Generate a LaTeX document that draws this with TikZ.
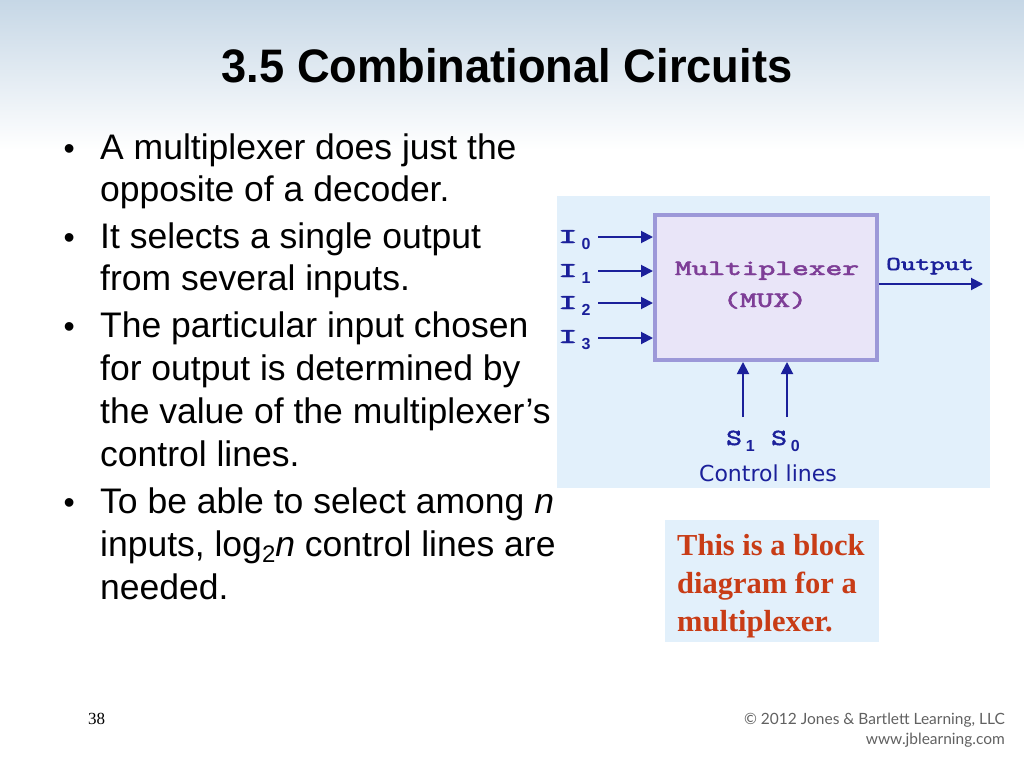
\documentclass[tikz,border=0pt]{standalone}
\usepackage{fontspec}
\usepackage{graphicx}
\setmainfont{Liberation Sans}
\newfontfamily\seriffont{Liberation Serif}
\newfontfamily\verdfont{DejaVu Sans}
\newfontfamily\footfont{Lato}
\newfontfamily\courfont[FakeBold=2.2]{lmmono10-regular.otf}
\usetikzlibrary{arrows.meta}
\definecolor{navyblue}{HTML}{1B209A}
\definecolor{muxfill}{HTML}{E9E5F8}
\definecolor{muxdraw}{HTML}{9C98D8}
\definecolor{muxtext}{HTML}{7E3E97}
\definecolor{panelbg}{HTML}{E2F0FB}
\definecolor{notered}{HTML}{C83C16}
\definecolor{topbg}{HTML}{C6D7E6}
\newcommand{\widetxt}[2]{\scalebox{#1}[1]{#2}}
\newcommand{\sublbl}[3]{\widetxt{#1}{#2}\hspace{4pt}\raisebox{-6.5pt}{\normalfont\bfseries\fontsize{16}{16}\selectfont #3}}
\tikzset{
  bodyline/.style={anchor=base west, inner sep=0pt, font=\fontsize{35.5}{40}\selectfont},
  bulletdot/.style={anchor=base west, inner sep=0pt, font=\fontsize{32}{36}\selectfont},
  arr/.style={navyblue, line width=1.9pt, -{Triangle[length=12pt,width=12pt]}},
  monolbl/.style={inner sep=0pt, anchor=base west, text=navyblue, font=\courfont\fontsize{21}{21}\selectfont},
  muxlbl/.style={anchor=base, inner sep=0pt, text=muxtext, font=\courfont\fontsize{22}{22}\selectfont},
  notetext/.style={anchor=base west, inner sep=0pt, text=notered, font=\seriffont\bfseries\fontsize{30.5}{34}\selectfont},
  foot/.style={anchor=base east, inner sep=0pt, text=black!62, font=\footfont\fontsize{15.5}{18}\selectfont}
}
\begin{document}
\begin{tikzpicture}[x=1pt,y=-1pt]
\useasboundingbox (0,0) rectangle (1024,768);
\fill[white] (0,0) rectangle (1024,768);
\shade[top color=topbg, bottom color=white] (0,0) rectangle (1024,150);

% title
\node[anchor=base, inner sep=0pt, font=\bfseries\fontsize{47}{50}\selectfont] (title) at (507,82) {\scalebox{0.963}[1]{3.5 Combinational Circuits}};

% bullets
\node[bulletdot] (b1) at (63.5,159) {•};
\node[bodyline] (l1) at (100,159) {A multiplexer does just the};
\node[bodyline] (l2) at (100,201) {opposite of a decoder.};
\node[bulletdot] (b2) at (63.5,248) {•};
\node[bodyline] (l3) at (100,248) {It selects a single output};
\node[bodyline] (l4) at (100,290) {from several inputs.};
\node[bulletdot] (b3) at (63.5,337) {•};
\node[bodyline] (l5) at (100,337) {The particular input chosen};
\node[bodyline] (l6) at (100,380) {for output is determined by};
\node[bodyline] (l7) at (100,423) {the value of the multiplexer’s};
\node[bodyline] (l8) at (100,466) {control lines.};
\node[bulletdot] (b4) at (63.5,513) {•};
\node[bodyline] (l9) at (100,513) {To be able to select among \textit{n}};
\node[bodyline] (l10) at (100,556) {inputs, log\raisebox{-6pt}{\fontsize{24}{24}\selectfont 2}\textit{n} control lines are};
\node[bodyline] (l11) at (100,599) {needed.};

% diagram panel
\fill[panelbg] (557,196) rectangle (990,488);
\node[draw=muxdraw, fill=muxfill, line width=4pt, minimum width=222pt, minimum height=145pt, inner sep=0pt] (mux) at (766,287.5) {};
\node[muxlbl] (mt1) at (767,275) {\widetxt{1.45}{Multiplexer}};
\node[muxlbl] (mt2) at (765,307) {\widetxt{1.45}{(MUX)}};

\node[monolbl] (i0) at (558,243) {\sublbl{1.75}{I}{0}};
\node[monolbl] (i1) at (558,277) {\sublbl{1.75}{I}{1}};
\node[monolbl] (i2) at (558,309) {\sublbl{1.75}{I}{2}};
\node[monolbl] (i3) at (558,343) {\sublbl{1.75}{I}{3}};
\coordinate (a0) at (598,237);
\coordinate (a1) at (598,271);
\coordinate (a2) at (598,303);
\coordinate (a3) at (598,338);
\draw[arr] (a0) -- (a0 -| mux.west);
\draw[arr] (a1) -- (a1 -| mux.west);
\draw[arr] (a2) -- (a2 -| mux.west);
\draw[arr] (a3) -- (a3 -| mux.west);

\node[monolbl, font=\courfont\fontsize{19.5}{20}\selectfont] (outl) at (886,270) {\widetxt{1.43}{Output}};
\coordinate (outp) at (983,284);
\draw[arr] (outp -| mux.east) -- (outp);

\coordinate (c1) at (743,417);
\coordinate (c0) at (787,417);
\draw[arr] (c1) -- (c1 |- mux.south);
\draw[arr] (c0) -- (c0 |- mux.south);
\node[monolbl, font=\courfont\fontsize{23}{23}\selectfont] (s1) at (726,445) {\sublbl{1.3}{S}{1}};
\node[monolbl, font=\courfont\fontsize{23}{23}\selectfont] (s0) at (771,445) {\sublbl{1.3}{S}{0}};
\node[anchor=base, inner sep=0pt, text=navyblue, font=\verdfont\fontsize{22}{22}\selectfont] (ctl) at (768,481) {Control lines};

% note box
\fill[panelbg] (665,520) rectangle (879,642);
\node[notetext] (n1) at (677,555) {This is a block};
\node[notetext] (n2) at (677,593) {diagram for a};
\node[notetext] (n3) at (677,631) {multiplexer.};

% footer
\node[anchor=base west, inner sep=0pt, font=\seriffont\fontsize{17}{17}\selectfont] (pg) at (88,724) {38};
\node[foot] (f1) at (1005,724) {© 2012 Jones \& Bartlett Learning, LLC};
\node[foot] (f2) at (1005,744) {www.jblearning.com};
\end{tikzpicture}
\end{document}
